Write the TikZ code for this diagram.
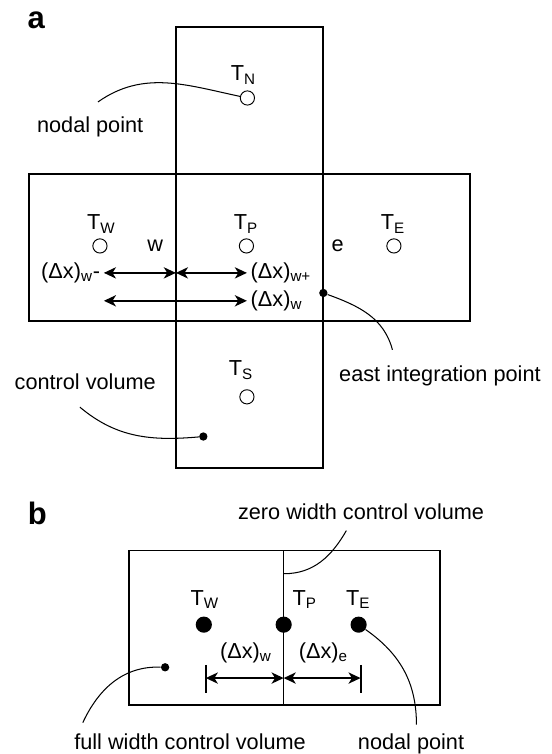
\documentclass[tikz,border=0pt]{standalone}
\usepackage{fontspec}
\setmainfont{Liberation Sans}
\usetikzlibrary{arrows.meta}

\begin{document}
\begin{tikzpicture}[font=\fontsize{12.6}{15}\selectfont,
  cv/.style={line width=0.9pt},
  np/.style={draw,circle,inner sep=0pt,minimum size=0.29cm,line width=0.55pt},
  ip/.style={fill,circle,inner sep=0pt,minimum size=0.17cm},
  bigdot/.style={fill,circle,inner sep=0pt,minimum size=0.33cm},
  dim/.style={line width=1.1pt,{Stealth[length=7pt,width=6.5pt,inset=2pt]}-{Stealth[length=7pt,width=6.5pt,inset=2pt]}},
  lead/.style={line width=0.6pt},
  tag/.style={font=\fontsize{18}{20}\selectfont\bfseries}]
\useasboundingbox (-3.59,-8.84) rectangle (7.67,6.55);

\node[tag] (a) at (-2.85,6.14) {a};
\draw[cv] (0,3) rectangle (3,6);
\draw[cv] (-3,0) rectangle (6,3);
\draw[cv] (0,0) -- (0,3) (3,0) -- (3,3);
\draw[cv] (0,-3) rectangle (3,0);

\node[np] (TN) at (1.46,4.55) {};
\node[np] (TW) at (-1.55,1.53) {};
\node[np] (TP) at (1.44,1.53) {};
\node[np] (TE) at (4.45,1.53) {};
\node[np] (TS) at (1.45,-1.55) {};
\node (lTN) at (1.38,5.02) {T\textsubscript{N}};
\node (lTW) at (-1.52,1.98) {T\textsubscript{W}};
\node (lTP) at (1.43,1.98) {T\textsubscript{P}};
\node (lTE) at (4.43,1.98) {T\textsubscript{E}};
\node (lTS) at (1.33,-1.0) {T\textsubscript{S}};
\node (w) at (-0.42,1.53) {w};
\node (e) at (3.30,1.53) {e};

\coordinate (r1a) at (-1.47,0.98);
\coordinate (r1b) at (0,0.98);
\coordinate (r1c) at (1.45,0.98);
\coordinate (r2a) at (-1.47,0.41);
\coordinate (r2b) at (1.45,0.41);
\draw[dim] (r1a) -- (r1b);
\draw[dim] (r1b) -- (r1c);
\draw[dim] (r2a) -- (r2b);
\node[anchor=east,inner sep=2pt] (dxwm) at (r1a) {(Δx)\textsubscript{w}-};
\node[anchor=west,inner sep=2pt] (dxwp) at (r1c) {(Δx)\textsubscript{w+}};
\node[anchor=west,inner sep=2pt] (dxw) at (r2b) {(Δx)\textsubscript{w}};

\node[ip] (eip) at (3.01,0.57) {};
\node[ip] (cvd) at (0.56,-2.36) {};
\node[anchor=base] (np1) at (-1.75,3.84) {nodal point};
\node[anchor=base] (cvt) at (-1.85,-1.40) {control volume};
\node[anchor=base] (eit) at (5.39,-1.24) {east integration point};
\coordinate (np1s) at (-1.59,4.47);
\coordinate (eie) at (4.42,-0.59);
\coordinate (cvs) at (-1.96,-1.76);
\draw[lead] (np1s) to[out=35,in=168] (TN);
\draw[lead] (eip) to[out=-20,in=105] (eie);
\draw[lead] (cvs) to[out=-40,in=185] (cvd);

\node[tag] (b) at (-2.83,-3.92) {b};
\draw[cv] (-0.96,-7.84) rectangle (5.39,-4.69);
\draw[cv] (2.20,-7.84) -- (2.20,-4.69);
\node[bigdot] (bW) at (0.57,-6.2) {};
\node[bigdot] (bP) at (2.20,-6.2) {};
\node[bigdot] (bE) at (3.73,-6.2) {};
\node (blW) at (0.59,-5.69) {T\textsubscript{W}};
\node (blP) at (2.63,-5.69) {T\textsubscript{P}};
\node (blE) at (3.72,-5.69) {T\textsubscript{E}};
\node (bdw) at (1.43,-6.78) {(Δx)\textsubscript{w}};
\node (bde) at (3.01,-6.78) {(Δx)\textsubscript{e}};
\coordinate (ba) at (0.61,-7.29);
\coordinate (bb) at (2.20,-7.29);
\coordinate (bc) at (3.77,-7.29);
\draw[dim] (ba) -- (bb);
\draw[dim] (bb) -- (bc);
\draw[line width=1.1pt] (0.61,-7.02) -- (0.61,-7.59) (3.77,-7.02) -- (3.77,-7.59);

\node[ip] (fwd) at (-0.22,-7.07) {};
\node[anchor=base] (fwt) at (0.29,-8.75) {full width control volume};
\node[anchor=base] (np2) at (4.80,-8.75) {nodal point};
\node[anchor=base] (zwt) at (3.78,-4.06) {zero width control volume};
\coordinate (fwe) at (-1.90,-8.20);
\coordinate (npe) at (4.91,-8.24);
\coordinate (zws) at (3.48,-4.28);
\coordinate (zwe) at (2.21,-5.16);
\draw[lead] (fwd) to[out=178,in=65] (fwe);
\draw[lead] (bE) to[out=-35,in=90] (npe);
\draw[lead] (zwe) to[out=0,in=240] (zws);
\end{tikzpicture}
\end{document}
